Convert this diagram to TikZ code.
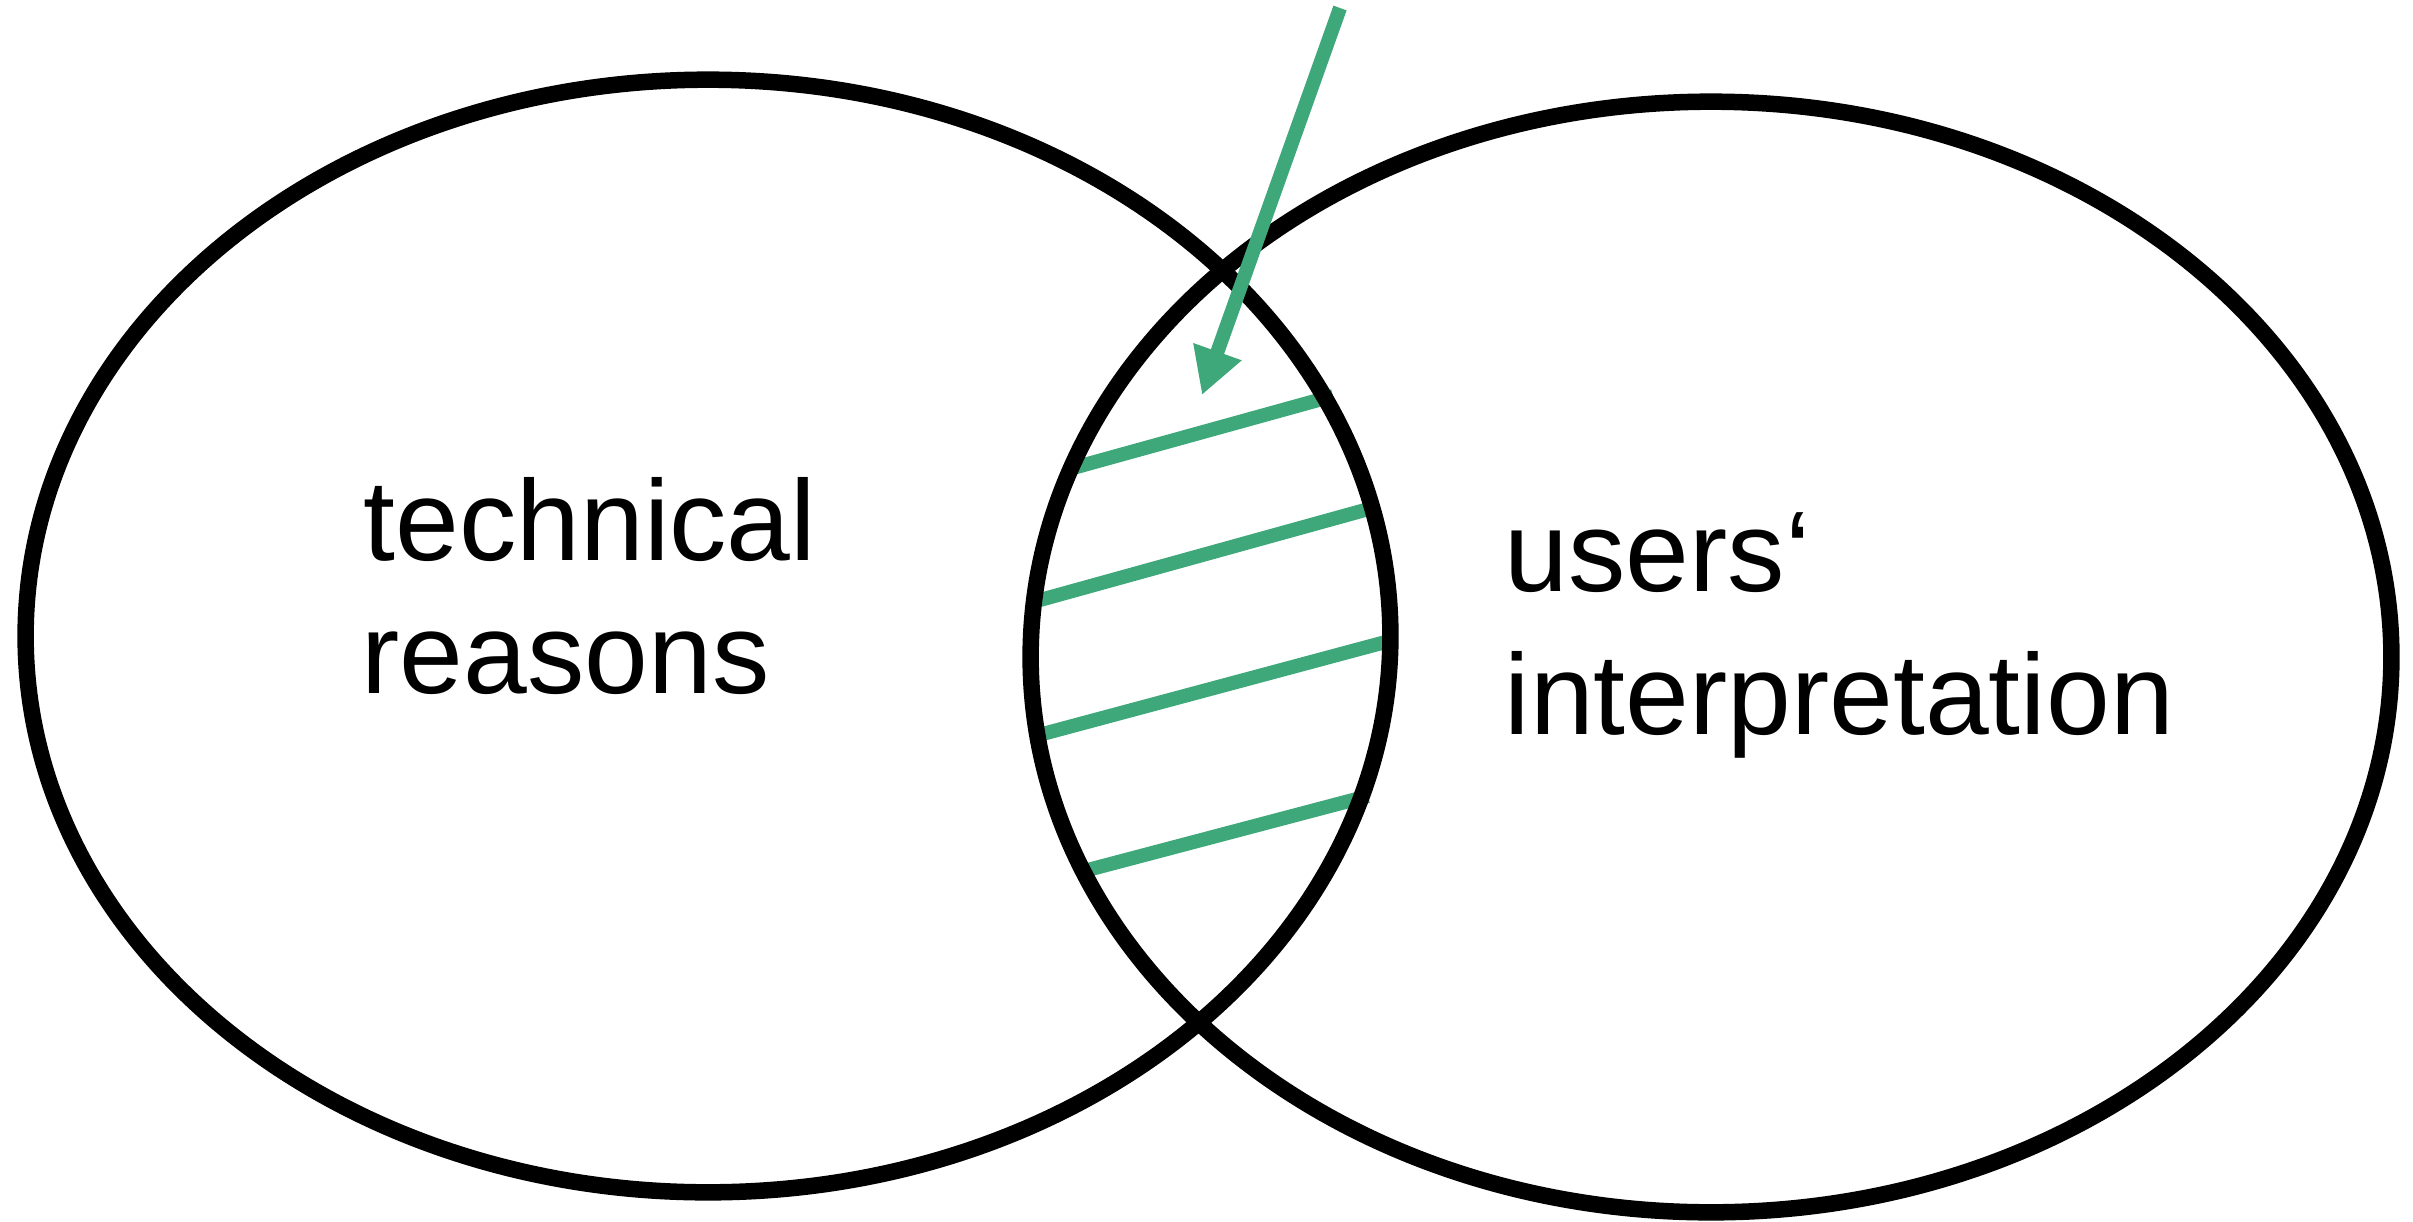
\documentclass[tikz,border=0pt]{standalone}
\usepackage{fontspec}
\setmainfont{Liberation Sans}
\usepackage{xcolor}
\usetikzlibrary{arrows.meta}
\definecolor{hatchgreen}{RGB}{62,168,122}

\begin{document}
\begin{tikzpicture}[x=0.01cm, y=-0.01cm,
    setline/.style={line width=0.165cm, black},
    hatch/.style={line width=0.14cm, hatchgreen},
    setlabel/.style={anchor=base west, inner sep=0pt, font=\fontsize{32.6}{38}\selectfont}]
  \useasboundingbox (0,0) rectangle (2413,1221);
  % hatching of the overlap
  \foreach \xa/\ya/\xb/\yb in {1073/468/1333/396, 1040/600/1365/510,
                               1035/736/1393/640, 1080/872/1368/796}
    \draw[hatch] (\xa,\ya) -- (\xb,\yb);
  % the two sets
  \draw[setline] (708,636) ellipse [x radius=6.82cm, y radius=5.56cm];
  \draw[setline] (1711,657) ellipse [x radius=6.80cm, y radius=5.55cm];
  % labels
  \node[setlabel] (tech1) at (363,560) {technical};
  \node[setlabel] (tech2) at (361,693) {reasons};
  \node[setlabel] (user1) at (1504,591) {users‘};
  \node[setlabel] (user2) at (1504,734) {interpretation};
  % pointer into the overlap
  \coordinate (from) at (1340,8);
  \coordinate (into) at (1202,395);
  \draw[hatch, -{Triangle[length=0.46cm, width=0.48cm]}] (from) -- (into);
\end{tikzpicture}
\end{document}
